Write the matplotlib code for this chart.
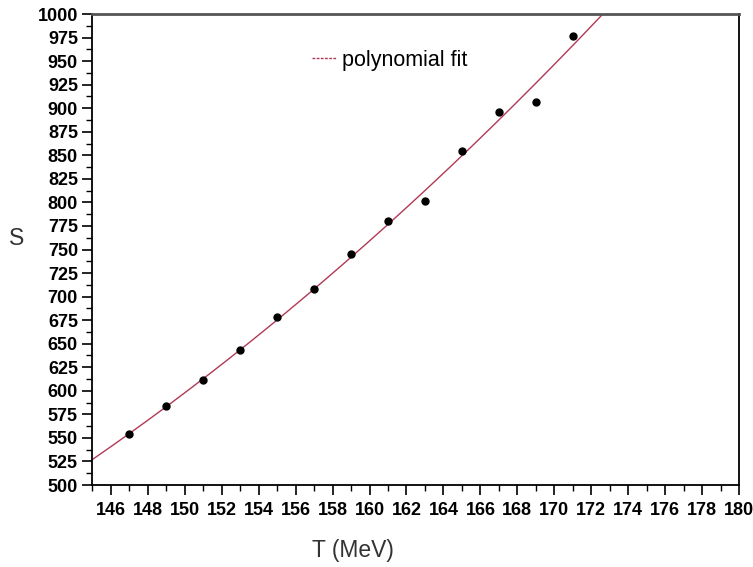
import numpy as np
import matplotlib
matplotlib.use('Agg')
import matplotlib.pyplot as plt
from matplotlib.ticker import MultipleLocator

# data
T = [147, 149, 151, 153, 155, 157, 159, 161, 163, 165, 167, 169, 171]
S = [554, 584, 611, 643, 678, 708, 745, 780, 801, 855, 896, 907, 977]
yticks = list(range(500, 1001, 25))
xticks = list(range(146, 181, 2))

plt.rcParams['font.family'] = ['Liberation Sans', 'DejaVu Sans']

fig = plt.figure(figsize=(7.53, 5.67), dpi=100)
ax = fig.add_axes([0.1228, 0.1446, 0.8586, 0.8307])

# quadratic fit of the points
coef = np.polyfit(T, S, 2)
tt = np.linspace(145, 180, 400)
ax.plot(tt, np.polyval(coef, tt), color='#b03a55', lw=1.0, label='polynomial fit')
ax.plot(T, S, 'o', color='black', ms=5, zorder=3)

ax.set_xlim(145, 180)
ax.set_ylim(500, 1000)
ax.set_xticks(xticks)
ax.set_yticks(yticks)
ax.xaxis.set_minor_locator(MultipleLocator(1))
ax.yaxis.set_minor_locator(MultipleLocator(12.5))
ax.tick_params(which='major', direction='out', length=7, width=1.2, labelsize=13)
ax.tick_params(axis='x', which='major', pad=5)
ax.tick_params(which='minor', direction='out', length=4, width=1.0)
for lab in ax.get_xticklabels() + ax.get_yticklabels():
    lab.set_fontweight('bold')
for side in ['left', 'bottom', 'right']:
    ax.spines[side].set_linewidth(1.3)
ax.spines['top'].set_color('#555555')
ax.spines['top'].set_linewidth(2)

ax.set_xlabel('T (MeV)', fontsize=16.5, color='#333333')
ax.xaxis.set_label_coords(0.403, -0.115)
ax.set_ylabel('S', fontsize=16.5, color='#333333', rotation=0)
ax.yaxis.set_label_coords(-0.118, 0.5)

leg = ax.legend(loc='upper left', bbox_to_anchor=(0.31, 0.965), frameon=False,
                fontsize=15.5, handlelength=1.1, handletextpad=0.3)
leg.get_lines()[0].set_linestyle((0, (2, 1)))

fig.savefig('out.png', dpi=100)
